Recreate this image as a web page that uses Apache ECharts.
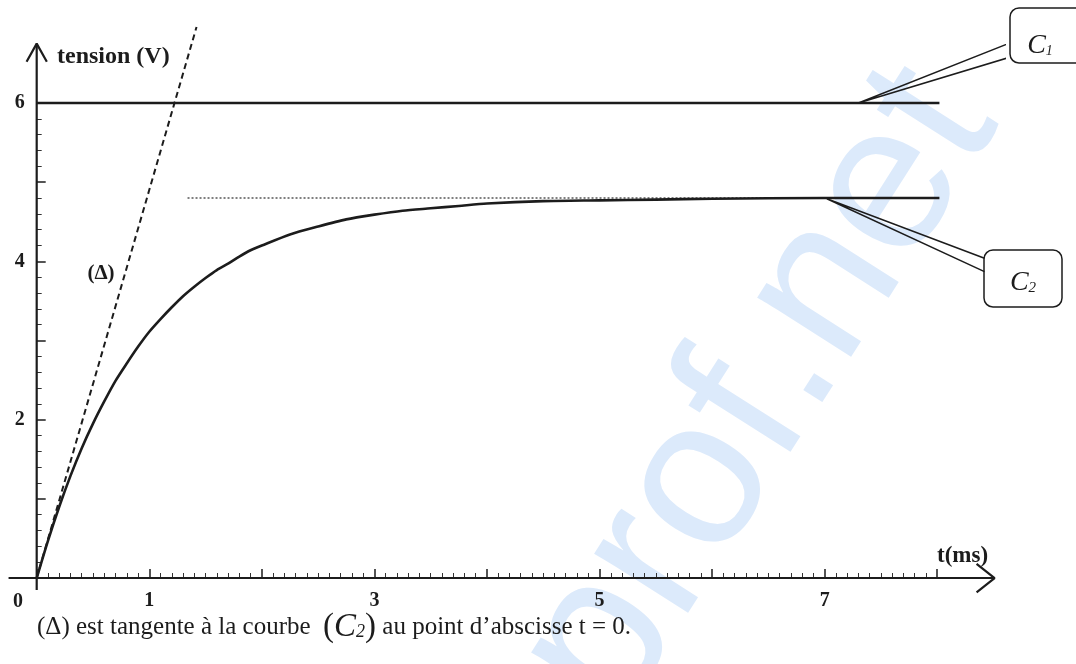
<!DOCTYPE html>
<html>
<head>
<meta charset="utf-8">
<script src="https://cdn.jsdelivr.net/npm/echarts@6/dist/echarts.min.js"></script>
<style>
html,body{margin:0;padding:0;background:#fff;}
#chart{width:1076px;height:664px;}
</style>
</head>
<body>
<div id="chart"></div>
<script>
// ---- data ----
const tC2 = [0, 0.1, 0.2, 0.3, 0.4, 0.5, 0.6, 0.7, 0.8, 0.9, 1.0, 1.1, 1.2, 1.3, 1.4, 1.5, 1.6, 1.7, 1.8, 1.9, 2.0,
             2.25, 2.5, 2.75, 3.0, 3.25, 3.5, 3.75, 4.0, 4.5, 5.0, 5.5, 6.0, 7.0, 8.02];
const uC2 = [0, 0.47, 0.90, 1.29, 1.64, 1.95, 2.23, 2.49, 2.71, 2.92, 3.11, 3.27, 3.42, 3.56, 3.68, 3.79, 3.89, 3.97, 4.06, 4.14, 4.20,
             4.34, 4.44, 4.53, 4.59, 4.64, 4.67, 4.70, 4.73, 4.76, 4.77, 4.78, 4.79, 4.80, 4.80];
const tC1 = [0, 8.02];
const uC1 = [6, 6];
const tTangent = [0, 1.42];
const uTangent = [0, 6.96];
const tAsym = [1.34, 7.0];
const uAsym = [4.8, 4.8];
const xTickLabels = ['1', '3', '5', '7'];
const yTickLabels = ['2', '4', '6'];

const zip = (a, b) => a.map((v, i) => [v, b[i]]);
const INK = '#1c1c1c';
const SERIF = '"Liberation Serif", "DejaVu Serif", serif';

const chart = echarts.init(document.getElementById('chart'), null, {renderer: 'canvas'});

const lineBase = {type: 'line', xAxisIndex: 0, yAxisIndex: 0, showSymbol: false, symbol: 'none', clip: false, silent: true, animation: false};

// scale: 112.56 px per ms, 79.17 px per V, origin at (36.7, 578)
const option = {
  backgroundColor: '#ffffff',
  animation: false,
  grid: [
    {left: -19.58, top: 8, width: 1024.3, height: 609.6, outerBoundsMode: 'none', containLabel: false},
    {left: 36.7, top: 103, width: 900.5, height: 475, outerBoundsMode: 'none', containLabel: false}
  ],
  xAxis: [
    {gridIndex: 0, type: 'value', min: -0.5, max: 8.6, show: false},
    {gridIndex: 1, type: 'value', min: 0, max: 8, interval: 1,
      axisLine: {show: false},
      axisTick: {show: true, inside: true, length: 9, lineStyle: {color: INK, width: 1.5}},
      minorTick: {show: true, splitNumber: 10, length: 5, lineStyle: {color: '#333', width: 1}},
      splitLine: {show: false}, minorSplitLine: {show: false},
      axisLabel: {
        margin: 13, color: INK, fontFamily: SERIF, fontWeight: 'bold', fontSize: 20,
        formatter: v => xTickLabels.includes(String(v)) ? String(v) : ''
      }
    }
  ],
  yAxis: [
    {gridIndex: 0, type: 'value', min: -0.5, max: 7.2, show: false},
    {gridIndex: 1, type: 'value', min: 0, max: 6, interval: 1,
      axisLine: {show: false},
      axisTick: {show: true, inside: true, length: 9, lineStyle: {color: INK, width: 1.5}},
      minorTick: {show: true, splitNumber: 5, length: 5, lineStyle: {color: '#333', width: 1}},
      splitLine: {show: false}, minorSplitLine: {show: false},
      axisLabel: {
        margin: 12, color: INK, fontFamily: SERIF, fontWeight: 'bold', fontSize: 20,
        formatter: v => yTickLabels.includes(String(v)) ? String(v) : ''
      }
    }
  ],
  series: [
    // axes drawn as lines (they cross at the origin)
    Object.assign({}, lineBase, {name: 'axe t', data: [[-0.25, 0], [8.51, 0]], lineStyle: {color: INK, width: 2.2}, z: 5}),
    Object.assign({}, lineBase, {name: 'axe u', data: [[0, -0.15], [0, 6.75]], lineStyle: {color: INK, width: 2.2}, z: 5}),
    Object.assign({}, lineBase, {name: 'flèche t', data: [[8.35, 0.18], [8.51, 0], [8.35, -0.18]], lineStyle: {color: INK, width: 2.2}, z: 5}),
    Object.assign({}, lineBase, {name: 'flèche u', data: [[-0.09, 6.52], [0, 6.75], [0.09, 6.52]], lineStyle: {color: INK, width: 2.2}, z: 5}),
    // asymptote (dotted)
    Object.assign({}, lineBase, {name: 'asymptote', data: zip(tAsym, uAsym), lineStyle: {color: '#555', width: 1.6, type: [2, 2]}, z: 3}),
    // tangent (Δ)
    Object.assign({}, lineBase, {name: '(Δ)', data: zip(tTangent, uTangent), lineStyle: {color: INK, width: 2, type: [6, 4]}, z: 4}),
    // C1
    Object.assign({}, lineBase, {name: 'C1', data: zip(tC1, uC1), lineStyle: {color: INK, width: 2.6}, z: 6}),
    // C2
    Object.assign({}, lineBase, {name: 'C2', data: zip(tC2, uC2), smooth: 0.25, lineStyle: {color: INK, width: 2.6}, z: 6}),
    // leader lines to the labels
    Object.assign({}, lineBase, {name: 'repère C1', data: [[8.65, 6.76], [7.30, 6], [8.65, 6.58]], lineStyle: {color: INK, width: 1.5}, z: 6}),
    Object.assign({}, lineBase, {name: 'repère C2', data: [[8.42, 4.04], [7.02, 4.79], [8.42, 3.87]], lineStyle: {color: INK, width: 1.5}, z: 6})
  ],
  graphic: {elements: [
    {type: 'text', z: -10, x: 760, y: 392, rotation: 57.5 * Math.PI / 180, silent: true,
      style: {text: 'prof.net', fill: '#dceafb', font: '210px "Liberation Sans", Arial, sans-serif', textAlign: 'center', textVerticalAlign: 'middle'}},
    {type: 'text', x: 57, y: 57, style: {text: 'tension (V)', fill: INK, font: 'bold 24px ' + SERIF, textVerticalAlign: 'middle'}},
    {type: 'text', x: 937, y: 556, style: {text: 't(ms)', fill: INK, font: 'bold 23px ' + SERIF, textVerticalAlign: 'middle'}},
    {type: 'text', x: 18, y: 602, style: {text: '0', fill: INK, font: 'bold 20px ' + SERIF, textAlign: 'center', textVerticalAlign: 'middle'}},
    {type: 'text', x: 101, y: 274, style: {text: '(Δ)', fill: INK, font: 'bold 21px ' + SERIF, textAlign: 'center', textVerticalAlign: 'middle'}},
    {type: 'rect', x: 1010, y: 8, shape: {width: 90, height: 55, r: 9}, style: {fill: '#fff', stroke: INK, lineWidth: 1.5}},
    {type: 'rect', x: 984, y: 250, shape: {width: 78, height: 57, r: 9}, style: {fill: '#fff', stroke: INK, lineWidth: 1.5}},
    {type: 'text', x: 1040, y: 46, style: {text: '{c|C}{s|1}', textAlign: 'center', textVerticalAlign: 'middle',
      rich: {c: {fontFamily: SERIF, fontStyle: 'italic', fontSize: 28, fill: INK, color: INK}, s: {fontFamily: SERIF, fontStyle: 'italic', fontSize: 14, fill: INK, color: INK, padding: [10, 0, 0, 0]}}}},
    {type: 'text', x: 1023, y: 283, style: {text: '{c|C}{s|2}', textAlign: 'center', textVerticalAlign: 'middle',
      rich: {c: {fontFamily: SERIF, fontStyle: 'italic', fontSize: 28, fill: INK, color: INK}, s: {fontFamily: SERIF, fontStyle: 'italic', fontSize: 15, fill: INK, color: INK, padding: [10, 0, 0, 0]}}}},
    {type: 'text', x: 37, y: 627, style: {text: '(Δ) est tangente à la courbe  {b|(}{c|C}{s|2}{b|)} au point d’abscisse t = 0.', fill: INK,
      font: '25px ' + SERIF, textVerticalAlign: 'middle',
      rich: {b: {fontFamily: SERIF, fontSize: 33, fill: INK, color: INK}, c: {fontFamily: SERIF, fontStyle: 'italic', fontSize: 33, fill: INK, color: INK}, s: {fontFamily: SERIF, fontStyle: 'italic', fontSize: 18, fill: INK, color: INK, padding: [10, 0, 0, 0]}}}}
  ]}
};
chart.setOption(option);
</script>
</body>
</html>
